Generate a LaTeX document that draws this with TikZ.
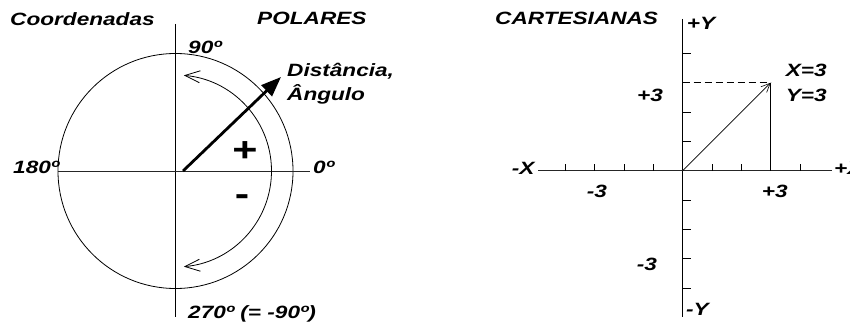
\documentclass[tikz,border=0pt]{standalone}
\usepackage{fontspec}
\usepackage{graphicx}
\setmainfont{Liberation Sans}
\newcommand{\wtxt}[1]{\scalebox{1.27}[1]{#1}}
\usetikzlibrary{arrows.meta}
\tikzset{
  lbl/.style={anchor=base west, inner sep=0pt, font=\fontsize{17.8}{20}\selectfont\bfseries\itshape},
  sign/.style={anchor=center, inner sep=0pt, font=\fontsize{34}{34}\selectfont\bfseries},
  thinl/.style={line width=0.8pt},
  axisl/.style={line width=0.9pt, black!85},
}
\begin{document}
\begin{tikzpicture}[x=1pt,y=1pt]
\useasboundingbox (0,0) rectangle (850,324);
% ---------------- POLAR ----------------
\coordinate (C) at (175.5,153);
\coordinate (Vt) at (175.5,300);
\coordinate (Vb) at (175.5,7);
\coordinate (Hl) at (58,153);
\coordinate (Hr) at (310,153);
\coordinate (As) at (183,153);
\coordinate (Ae) at (281,247);
\draw[thinl] (C) circle[radius=117.5];
\draw[thinl] (Vt) -- (Vb);
\draw[axisl] (Hl) -- (Hr);
\draw[line width=2.8pt, -{Triangle[length=20pt,width=15pt]}] (As) -- (Ae);
\draw[thinl, {Straight Barb[length=15pt,width=12pt]}-{Straight Barb[length=15pt,width=12pt]}]
  ([shift={(85:96)}]C) arc[start angle=85, end angle=-85, radius=96];
\node[sign] (plus) at (245,172) {\wtxt{+}};
\node[sign] (minus) at (242,124) {\wtxt{-}};
\node[lbl] (coord) at (10,298.5) {\wtxt{Coordenadas}};
\node[lbl] (polares) at (257,299) {\wtxt{POLARES}};
\node[lbl] (n90) at (188,270.7) {\wtxt{90º}};
\node[lbl] (dist) at (287,247) {\wtxt{Distância,}};
\node[lbl] (ang) at (287,223) {\wtxt{Ângulo}};
\node[lbl] (n180) at (13,150) {\wtxt{180º}};
\node[lbl] (n0) at (313,150) {\wtxt{0º}};
\node[lbl] (n270) at (188,6) {\wtxt{270º (= -90º)}};
% ---------------- CARTESIAN ----------------
\def\u{29.33}
\coordinate (O) at (682.7,153.3);
\coordinate (Yt) at (682.7,305);
\coordinate (Yb) at (682.7,7);
\coordinate (Xl) at (538,153.3);
\coordinate (Xr) at (832,153.3);
\coordinate (P) at (770.7,241.3);
\coordinate (Py) at (682.7,241.3);
\coordinate (Px) at (770.7,153.3);
\draw[thinl] (Yt) -- (Yb);
\draw[axisl] (Xl) -- (Xr);
\foreach \k in {-4,-3,-2,-1,1,2,4} {
  \draw[thinl] (O) ++(\k*\u,0) -- ++(0,7);
}
\foreach \k in {-4,-3,-2,-1,1,2,4} {
  \draw[thinl] (O) ++(0,\k*\u) -- ++(8,0);
}
\draw[thinl, dash pattern=on 7pt off 4pt] (Py) -- (P);
\draw[thinl] (P) -- (Px);
\draw[line width=0.6pt, -{Straight Barb[length=9pt,width=8pt]}] (O) -- (P);
\node[lbl] (cart) at (495,299) {\wtxt{CARTESIANAS}};
\node[lbl] (pY) at (686.7,294) {\wtxt{+Y}};
\node[lbl] (mY) at (686,9) {\wtxt{-Y}};
\node[lbl] (mX) at (511.7,149) {\wtxt{-X}};
\node[lbl] (pX) at (834,149) {\wtxt{+X}};
\node[lbl] (X3) at (785.7,247) {\wtxt{X=3}};
\node[lbl] (Y3) at (785.7,222) {\wtxt{Y=3}};
\node[lbl] (yp3) at (637,222) {\wtxt{+3}};
\node[lbl] (ym3) at (636.7,54) {\wtxt{-3}};
\node[lbl] (xm3) at (586.7,126) {\wtxt{-3}};
\node[lbl] (xp3) at (761.7,126) {\wtxt{+3}};
\end{tikzpicture}
\end{document}
